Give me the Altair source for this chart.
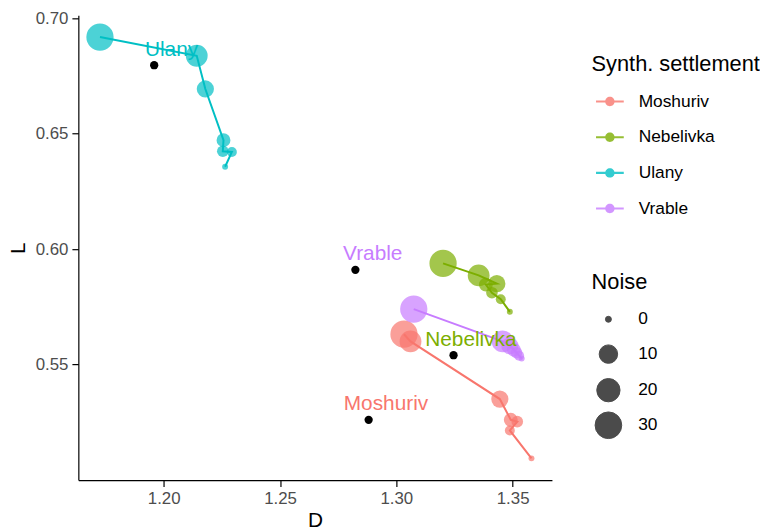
import altair as alt
import pandas as pd

# ---- data ----
settlements = ["Moshuriv", "Nebelivka", "Ulany", "Vrable"]
noise_levels = [32, 16, 8, 4, 2, 1, 0]

moshuriv_D = [1.3033, 1.3061, 1.3445, 1.3492, 1.3520, 1.3488, 1.3581]
moshuriv_L = [0.5631, 0.5600, 0.5350, 0.5260, 0.5252, 0.5214, 0.5093]
nebelivka_D = [1.3201, 1.3354, 1.3432, 1.3385, 1.3411, 1.3449, 1.3488]
nebelivka_L = [0.5938, 0.5886, 0.5850, 0.5846, 0.5811, 0.5783, 0.5728]
ulany_D = [1.1726, 1.2142, 1.2179, 1.2257, 1.2254, 1.2293, 1.2264]
ulany_L = [0.6919, 0.6838, 0.6694, 0.6472, 0.6424, 0.6421, 0.6357]
vrable_D = [1.3075, 1.3457, 1.3488, 1.3505, 1.3517, 1.3528, 1.3539]
vrable_L = [0.5740, 0.5600, 0.5581, 0.5564, 0.5551, 0.5538, 0.5526]

real_D = [1.2881, 1.3246, 1.1959, 1.2824]
real_L = [0.5260, 0.5540, 0.6797, 0.5910]

x_ticks = [1.20, 1.25, 1.30, 1.35]
y_ticks = [0.55, 0.60, 0.65, 0.70]
noise_legend_values = [0, 10, 20, 30]

# ---- tables ----
series_D = [moshuriv_D, nebelivka_D, ulany_D, vrable_D]
series_L = [moshuriv_L, nebelivka_L, ulany_L, vrable_L]
rows = []
for name, ds, ls in zip(settlements, series_D, series_L):
    for n, d, l in zip(noise_levels, ds, ls):
        rows.append({"settlement": name, "Noise": n, "D": d, "L": l})
synth = pd.DataFrame(rows)
real = pd.DataFrame({"settlement": settlements, "D": real_D, "L": real_L})

colors = ["#F8766D", "#7CAE00", "#00BFC4", "#C77CFF"]
FONT = "Liberation Sans"

x_enc = alt.X("D:Q", title="D",
              scale=alt.Scale(domain=[1.1633, 1.3669], nice=False, zero=False),
              axis=alt.Axis(values=x_ticks, format=".2f"))
y_enc = alt.Y("L:Q", title="L",
              scale=alt.Scale(domain=[0.4999, 0.7013], nice=False, zero=False),
              axis=alt.Axis(values=y_ticks, format=".2f"))

legend_symbol = ("M-1,-0.075H1V0.075H-1Z"
                 "M-0.34,0A0.34,0.34,0,1,1,0.34,0A0.34,0.34,0,1,1,-0.34,0Z")

points = alt.Chart(synth).mark_circle(opacity=0.7).encode(
    x=x_enc,
    y=y_enc,
    color=alt.Color("settlement:N",
                    scale=alt.Scale(domain=settlements, range=colors),
                    legend=alt.Legend(title="Synth. settlement", orient="none",
                                      legendX=518, legendY=39,
                                      symbolType=legend_symbol, symbolSize=784,
                                      symbolOpacity=0.8, symbolStrokeWidth=0,
                                      symbolOffset=4.5, gridAlign="all",
                                      rowPadding=13, titlePadding=12,
                                      labelOffset=15, padding=0)),
    size=alt.Size("Noise:Q",
                  scale=alt.Scale(domain=[0, 1, 2, 4, 8, 16, 32],
                                  range=[36, 101, 137, 197, 302, 484, 757]),
                  legend=alt.Legend(title="Noise", orient="none",
                                    legendX=518, legendY=259,
                                    values=noise_legend_values,
                                    symbolFillColor="black", symbolOpacity=0.7,
                                    symbolStrokeColor="black", symbolStrokeWidth=1,
                                    symbolOffset=3, gridAlign="all",
                                    rowPadding=1.9, titlePadding=17,
                                    labelOffset=16, padding=0)),
)

lines = alt.Chart(synth).mark_line(strokeWidth=2).encode(
    x="D:Q",
    y="L:Q",
    stroke=alt.Stroke("settlement:N",
                      scale=alt.Scale(domain=settlements, range=colors),
                      legend=None),
    order=alt.Order("Noise:Q", sort="descending"),
)

real_pts = alt.Chart(real).mark_circle(color="black", opacity=1, size=70).encode(
    x="D:Q", y="L:Q"
)

labels = alt.Chart(real).mark_text(
    align="center", baseline="alphabetic", dx=17.5, dy=-9.5,
    fontSize=21, font=FONT
).encode(
    x="D:Q", y="L:Q", text="settlement:N",
    fill=alt.Fill("settlement:N",
                  scale=alt.Scale(domain=settlements, range=colors),
                  legend=None),
)

chart = alt.layer(points, lines, real_pts, labels).properties(
    width=478, height=469,
    autosize=alt.AutoSizeParams(type="none"),
    padding={"left": 71, "top": 5, "right": 210, "bottom": 49},
).configure(
    font=FONT,
).configure_view(
    stroke=None
).configure_axis(
    grid=False,
    domainColor="black", domainWidth=1.2,
    tickColor="black", tickWidth=1.2, tickSize=6.5,
    labelColor="#4D4D4D", labelFontSize=17, labelFont=FONT, labelPadding=4,
    titleColor="black", titleFontSize=21, titleFontWeight="normal", titleFont=FONT,
).configure_axisX(
    titlePadding=3,
).configure_axisY(
    titlePadding=7,
).configure_legend(
    titleFontSize=22, titleFontWeight="normal", titleColor="black", titleFont=FONT,
    labelFontSize=17.5, labelColor="black", labelFont=FONT,
)

chart.save("out.html", embed_options={"renderer": "svg", "actions": False})
